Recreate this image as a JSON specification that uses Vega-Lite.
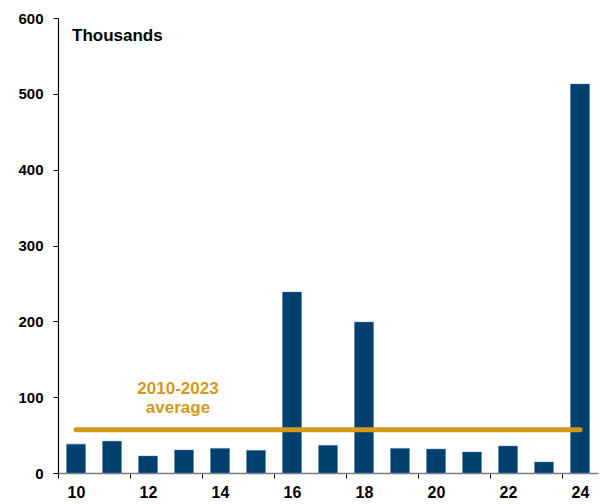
{
  "$schema": "https://vega.github.io/schema/vega-lite/v6.json",
  "width": 540,
  "height": 455,
  "autosize": {"type": "none"},
  "padding": {"left": 58, "top": 18, "right": 5, "bottom": 31},
  "config": {
    "view": {"stroke": null},
    "font": "Liberation Sans"
  },
  "datasets": {
    "bars": [
      {"yr": "10", "value": 38},
      {"yr": "11", "value": 42},
      {"yr": "12", "value": 22.4},
      {"yr": "13", "value": 30.3},
      {"yr": "14", "value": 32.5},
      {"yr": "15", "value": 29.9},
      {"yr": "16", "value": 238.7},
      {"yr": "17", "value": 36.5},
      {"yr": "18", "value": 199},
      {"yr": "19", "value": 32.5},
      {"yr": "20", "value": 31.6},
      {"yr": "21", "value": 27.7},
      {"yr": "22", "value": 35.6},
      {"yr": "23", "value": 14.5},
      {"yr": "24", "value": 513}
    ],
    "avg": [
      {"yr": "10", "value": 57},
      {"yr": "24", "value": 57}
    ],
    "labels": [
      {"yr": "13", "value": 111, "label": ["2010-2023", "average"]}
    ],
    "unit": [
      {"yr": "10", "value": 576, "label": "Thousands"}
    ]
  },
  "encoding": {
    "x": {
      "field": "yr",
      "type": "ordinal",
      "scale": {"paddingInner": 0.47, "paddingOuter": 0.235},
      "axis": {
        "title": null,
        "values": ["10", "12", "14", "16", "18", "20", "22", "24"],
        "labelAngle": 0,
        "labelFont": "Liberation Sans",
        "labelFontSize": 16,
        "labelFontWeight": "bold",
        "labelColor": "#000000",
        "labelPadding": 6,
        "tickOffset": -18,
        "labelOffset": 18,
        "tickSize": 5,
        "tickColor": "#000000",
        "domainColor": "#7f7f7f",
        "domainWidth": 1.5
      }
    },
    "y": {
      "field": "value",
      "type": "quantitative",
      "scale": {"domain": [0, 600], "nice": false},
      "axis": {
        "title": null,
        "values": [0, 100, 200, 300, 400, 500, 600],
        "grid": false,
        "labelFont": "Liberation Sans",
        "labelFontSize": 15,
        "labelFontWeight": "bold",
        "labelColor": "#000000",
        "labelPadding": 10,
        "tickSize": 5,
        "tickColor": "#000000",
        "domainColor": "#000000",
        "domainWidth": 1.2
      }
    }
  },
  "layer": [
    {
      "data": {"name": "bars"},
      "mark": {"type": "bar", "color": "#00406F", "stroke": "#5a86b0", "strokeWidth": 0.5}
    },
    {
      "data": {"name": "avg"},
      "mark": {"type": "line", "color": "#D4991C", "strokeWidth": 5, "strokeCap": "round"}
    },
    {
      "data": {"name": "labels"},
      "mark": {"type": "text", "color": "#D4991C", "fontSize": 17, "fontWeight": "bold", "align": "center", "baseline": "middle", "lineHeight": 19, "dx": -6},
      "encoding": {"text": {"field": "label"}}
    },
    {
      "data": {"name": "unit"},
      "mark": {"type": "text", "color": "#000000", "fontSize": 17, "fontWeight": "bold", "align": "left", "baseline": "middle", "dx": -4},
      "encoding": {"text": {"field": "label"}}
    }
  ]
}
